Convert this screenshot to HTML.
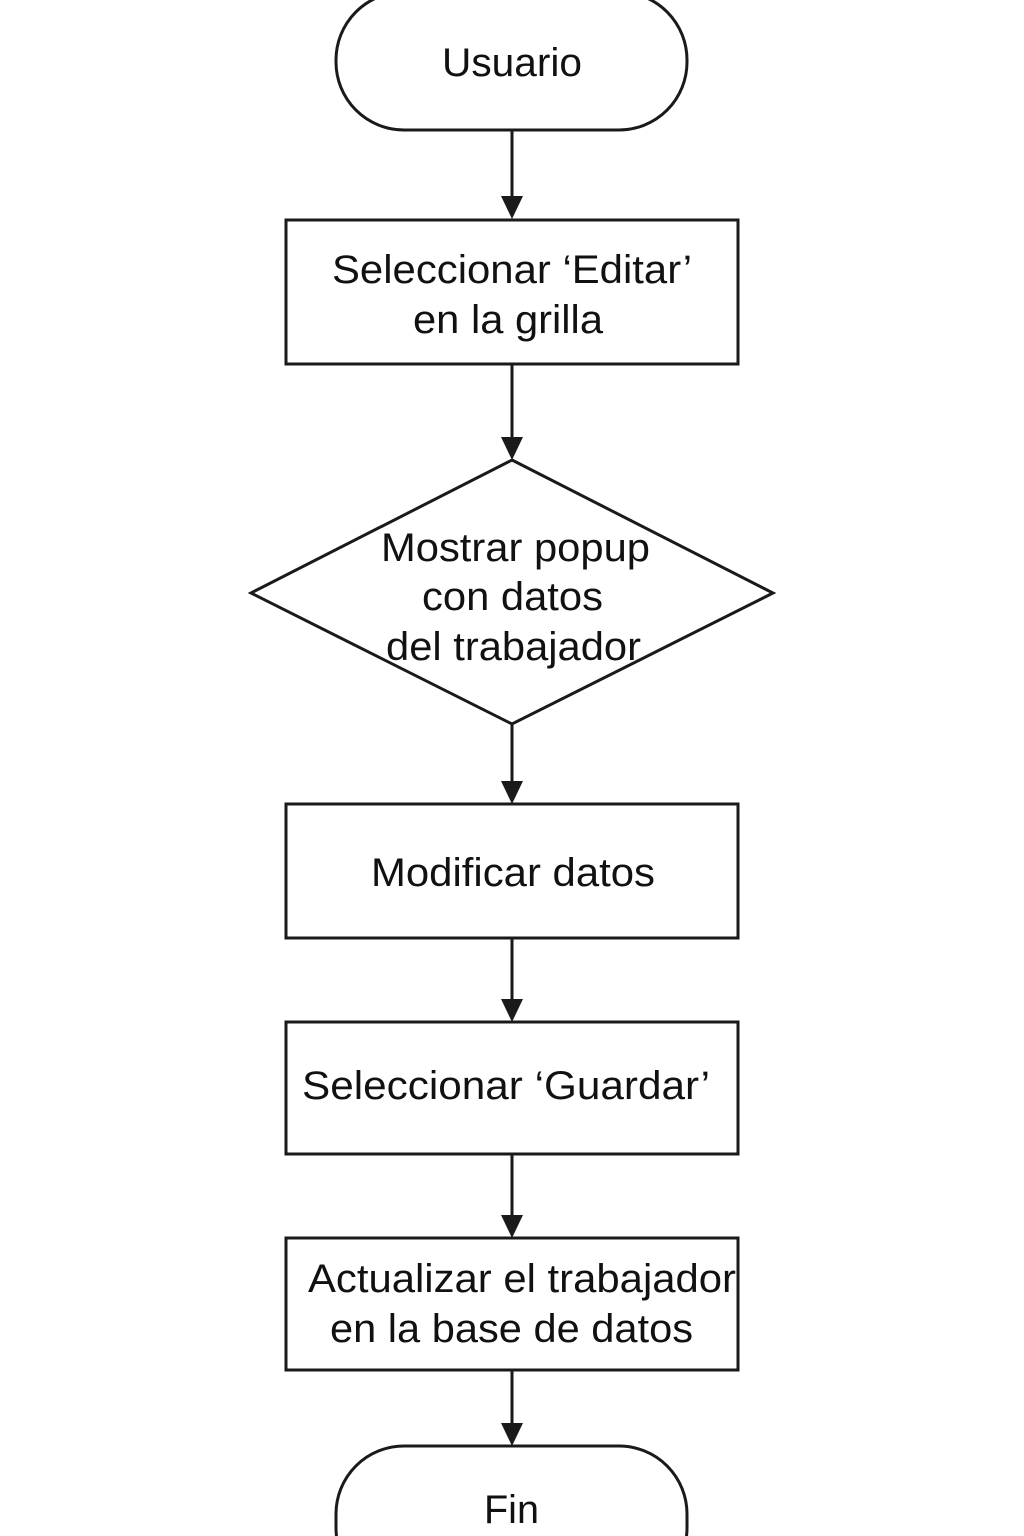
<!DOCTYPE html>
<html><head><meta charset="utf-8"><style>
html,body{margin:0;padding:0;background:#fff;}
svg{display:block;}
text{font-family:"Liberation Sans",Arial,sans-serif;font-size:40px;fill:#111;}
</style></head><body>
<svg width="1024" height="1536" viewBox="0 0 1024 1536" xmlns="http://www.w3.org/2000/svg">
<g stroke="#1a1a1a" stroke-width="3" fill="none">
<rect x="336" y="-8" width="351" height="138" rx="68" ry="68"/>
<rect x="286" y="220" width="452" height="144"/>
<polygon points="512,460 773,593 512,724 251,593"/>
<rect x="286" y="804" width="452" height="134"/>
<rect x="286" y="1022" width="452" height="132"/>
<rect x="286" y="1238" width="452" height="132"/>
<rect x="336" y="1446" width="351" height="150" rx="68" ry="68"/>
<line x1="512" y1="130" x2="512" y2="200"/>
<line x1="512" y1="364" x2="512" y2="440"/>
<line x1="512" y1="724" x2="512" y2="784"/>
<line x1="512" y1="938" x2="512" y2="1002"/>
<line x1="512" y1="1154" x2="512" y2="1218"/>
<line x1="512" y1="1370" x2="512" y2="1426"/>
</g>
<g fill="#1a1a1a">
<polygon points="501,196 523,196 512,219"/>
<polygon points="501,437 523,437 512,460"/>
<polygon points="501,781 523,781 512,804"/>
<polygon points="501,999 523,999 512,1022"/>
<polygon points="501,1215 523,1215 512,1238"/>
<polygon points="501,1423 523,1423 512,1446"/>
</g>
<text x="442" y="76" textLength="140" lengthAdjust="spacingAndGlyphs">Usuario</text>
<text x="332" y="283" textLength="360" lengthAdjust="spacingAndGlyphs">Seleccionar ‘Editar’</text>
<text x="413" y="333" textLength="190" lengthAdjust="spacingAndGlyphs">en la grilla</text>
<text x="381" y="561" textLength="269" lengthAdjust="spacingAndGlyphs">Mostrar popup</text>
<text x="422" y="610" textLength="181" lengthAdjust="spacingAndGlyphs">con datos</text>
<text x="386" y="660" textLength="255" lengthAdjust="spacingAndGlyphs">del trabajador</text>
<text x="371" y="886" textLength="284" lengthAdjust="spacingAndGlyphs">Modificar datos</text>
<text x="302" y="1099" textLength="408" lengthAdjust="spacingAndGlyphs">Seleccionar ‘Guardar’</text>
<text x="308" y="1292" textLength="428" lengthAdjust="spacingAndGlyphs">Actualizar el trabajador</text>
<text x="330" y="1342" textLength="363" lengthAdjust="spacingAndGlyphs">en la base de datos</text>
<text x="484" y="1523" textLength="55" lengthAdjust="spacingAndGlyphs">Fin</text>
</svg>
</body></html>
